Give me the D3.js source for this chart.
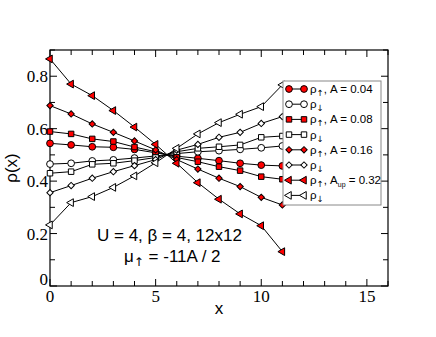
<!DOCTYPE html>
<html><head><meta charset="utf-8">
<script src="https://cdn.jsdelivr.net/npm/d3@7"></script>
<style>body{margin:0;background:#fff}
.serif{font-family:"Liberation Serif","Times New Roman","DejaVu Serif",serif}
.sans{font-family:"Liberation Sans",Arial,sans-serif}
.arrow{font-family:"DejaVu Sans",sans-serif}
</style>
</head><body>
<svg id="c" width="436" height="337"></svg>
<script>
const xs = [0,1,2,3,4,5,6,7,8,9,10,11];
const upA004 = [0.544,0.538,0.531,0.529,0.521,0.508,0.495,0.487,0.478,0.468,0.461,0.458];
const dnA004 = [0.465,0.468,0.477,0.481,0.488,0.496,0.505,0.512,0.516,0.521,0.527,0.534];
const upA008 = [0.589,0.580,0.561,0.551,0.530,0.512,0.490,0.474,0.455,0.440,0.417,0.407];
const dnA008 = [0.430,0.436,0.464,0.468,0.478,0.490,0.512,0.525,0.531,0.538,0.567,0.572];
const upA016 = [0.688,0.656,0.618,0.586,0.553,0.519,0.482,0.446,0.411,0.379,0.338,0.309];
const dnA016 = [0.356,0.383,0.411,0.436,0.459,0.482,0.518,0.540,0.567,0.586,0.620,0.646];
const upA032 = [0.866,0.770,0.726,0.669,0.606,0.540,0.468,0.394,0.331,0.275,0.230,0.131];
const dnA032 = [0.233,0.318,0.341,0.376,0.420,0.470,0.525,0.580,0.623,0.655,0.684,0.767];
const xTicks = [0,5,10,15];
const yTicks = [0,0.2,0.4,0.6,0.8];
const seriesNames = ["up","down","up","down","up","down","up","down"];
const seriesA = ["A = 0.04","","A = 0.08","","A = 0.16","","= 0.32",""];

const series = [
  {v:upA004, sym:"circle", fill:"#ff0000"},
  {v:dnA004, sym:"circle", fill:"#ffffff"},
  {v:upA008, sym:"square", fill:"#ff0000"},
  {v:dnA008, sym:"square", fill:"#ffffff"},
  {v:upA016, sym:"diamond", fill:"#ff0000"},
  {v:dnA016, sym:"diamond", fill:"#ffffff"},
  {v:upA032, sym:"tri", fill:"#ff0000"},
  {v:dnA032, sym:"tri", fill:"#ffffff"}
];

const svg = d3.select("#c");
const L=50, R=388, T=50, B=286;
const x = d3.scaleLinear().domain([0,16]).range([L,R]);
const y = d3.scaleLinear().domain([0,0.9]).range([B,T]);

function symPath(s){
  if(s==="circle") return d3.symbol(d3.symbolCircle, 36)();
  if(s==="square") return d3.symbol(d3.symbolSquare, 30)();
  if(s==="diamond") return d3.symbol(d3.symbolSquare, 20)();
  return d3.symbol(d3.symbolTriangle, 26)();
}
function symTransform(s,px,py){
  if(s==="tri") return `translate(${px},${py}) rotate(-90)`;
  if(s==="diamond") return `translate(${px},${py}) rotate(45)`;
  return `translate(${px},${py})`;
}

// frame
svg.append("rect").attr("x",L).attr("y",T).attr("width",R-L).attr("height",B-T)
  .attr("fill","none").attr("stroke","#000").attr("stroke-width",1.2);

// ticks (inward, all four sides)
const g = svg.append("g").attr("stroke","#000").attr("stroke-width",1);
d3.range(0,17,1).forEach(t=>{
  const major = t%5===0, len = major?7:5;
  g.append("line").attr("x1",x(t)).attr("x2",x(t)).attr("y1",B).attr("y2",B-len);
  g.append("line").attr("x1",x(t)).attr("x2",x(t)).attr("y1",T).attr("y2",T+len);
});
d3.range(0,10,1).forEach(i=>{
  const t=i/10, major = i%2===0, len = major?7:5;
  g.append("line").attr("y1",y(t)).attr("y2",y(t)).attr("x1",L).attr("x2",L+len);
  g.append("line").attr("y1",y(t)).attr("y2",y(t)).attr("x1",R).attr("x2",R-len);
});

// tick labels
svg.append("g").selectAll("text").data(xTicks).join("text").attr("class","serif")
  .attr("x",d=>x(d)).attr("y",302).attr("text-anchor","middle")
  .attr("font-size",17).text(d=>d);
svg.append("g").selectAll("text").data(yTicks).join("text").attr("class","serif")
  .attr("x",48).attr("y",d=>y(d)+(d===0?-1:6)).attr("text-anchor","end")
  .attr("font-size",17).text(d=>d===0?"0":d3.format(".1f")(d));

// axis labels
svg.append("text").attr("class","sans").attr("x",219).attr("y",314).attr("text-anchor","middle")
  .attr("font-size",17).text("x");
svg.append("text").attr("class","sans").attr("transform","translate(17,168) rotate(-90)").attr("text-anchor","middle")
  .attr("font-size",17).text("ρ(x)");

// lines & markers
const line = d3.line().x((d,i)=>x(xs[i])).y(d=>y(d));
series.forEach(s=>{
  svg.append("path").attr("d",line(s.v)).attr("fill","none").attr("stroke","#000").attr("stroke-width",1);
});
series.forEach(s=>{
  svg.append("g").selectAll("path").data(s.v).join("path")
    .attr("d",symPath(s.sym)).attr("transform",(d,i)=>symTransform(s.sym,x(xs[i]),y(d)))
    .attr("fill",s.fill).attr("stroke","#000").attr("stroke-width",1);
});

// annotation
svg.append("text").attr("class","sans").attr("x",97).attr("y",241)
  .attr("font-size",17).text("U = 4, β = 4, 12x12");
const mu = svg.append("text").attr("class","sans").attr("x",124).attr("y",262).attr("font-size",17);
mu.append("tspan").text("μ");
mu.append("tspan").attr("class","arrow").attr("font-size",12).attr("dy",4).text("↑");
mu.append("tspan").attr("dy",-4).text(" = -11A / 2");

// legend
const lg = svg.append("g");
lg.append("rect").attr("x",283).attr("y",81).attr("width",98).attr("height",124)
  .attr("fill","#fff").attr("stroke","#888").attr("stroke-width",1);
series.forEach((s,i)=>{
  const yy = 89 + i*15.2;
  lg.append("line").attr("x1",289).attr("x2",304).attr("y1",yy).attr("y2",yy).attr("stroke","#000");
  [289,304].forEach(px=>lg.append("path").attr("d",symPath(s.sym)).attr("transform",symTransform(s.sym,px,yy))
    .attr("fill",s.fill).attr("stroke","#000").attr("stroke-width",1));
  const t = lg.append("text").attr("class","sans").attr("x",310).attr("y",yy+4).attr("font-size",11.5);
  t.append("tspan").text("ρ");
  t.append("tspan").attr("class","arrow").attr("font-size",8.5).attr("dy",3).text(seriesNames[i]==="up"?"↑":"↓");
  if(seriesA[i]){
    if(i===6){
      t.append("tspan").attr("dy",-3).text(", A");
      t.append("tspan").attr("font-size",7).attr("dy",3).text("up");
      t.append("tspan").attr("dy",-3).text(" "+seriesA[i]);
    } else {
      t.append("tspan").attr("dy",-3).text(", "+seriesA[i]);
    }
  }
});
</script>
</body></html>
